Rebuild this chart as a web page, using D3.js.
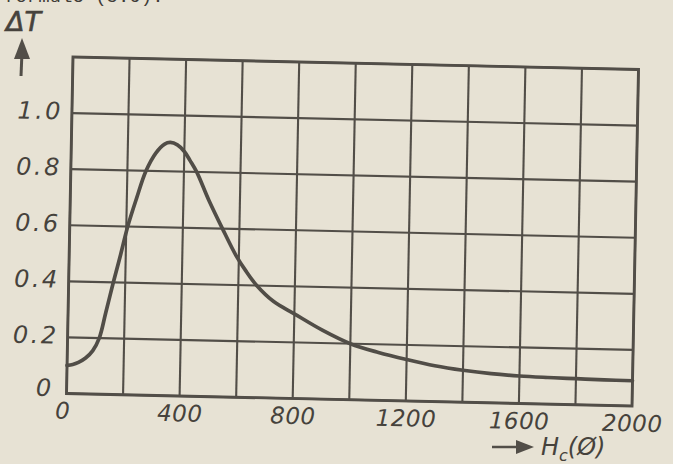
<!DOCTYPE html>
<html>
<head>
<meta charset="utf-8">
<script src="https://cdn.jsdelivr.net/npm/d3@7"></script>
<style>
  html, body { margin: 0; padding: 0; background: #e7e2d4; }
  svg { display: block; }
  .lbl { font-family: "DejaVu Sans", "Liberation Sans", sans-serif; font-style: italic; fill: #46423c; }
</style>
</head>
<body>
<svg id="chart" width="673" height="464"></svg>
<script>
// Field strength H_c (oersted) along the horizontal axis
const fieldH = [0, 20, 40, 65, 90, 112, 133, 158, 182, 205, 234, 266, 300, 330, 350, 375, 400, 421, 445,
                490, 540, 590, 625, 665, 725, 800, 900, 1000, 1100, 1200, 1300, 1400, 1500, 1600,
                1700, 1800, 1900, 2000];
// Temperature change ΔT measured at each field value
const deltaT = [0.100, 0.104, 0.112, 0.128, 0.155, 0.200, 0.290, 0.400, 0.500, 0.600, 0.700, 0.800, 0.865,
                0.897, 0.903, 0.895, 0.872, 0.840, 0.800, 0.700, 0.600, 0.505, 0.452, 0.400, 0.345, 0.302,
                0.246, 0.200, 0.171, 0.148, 0.128, 0.114, 0.104, 0.098, 0.095, 0.093, 0.091, 0.090];

const xTickValues = [0, 400, 800, 1200, 1600, 2000];
const xGridValues = [0, 200, 400, 600, 800, 1000, 1200, 1400, 1600, 1800, 2000];
const yTickValues = [0, 0.2, 0.4, 0.6, 0.8, 1.0];
const yGridValues = [0, 0.2, 0.4, 0.6, 0.8, 1.0, 1.2];
const yTickLabels = ["0", "0.2", "0.4", "0.6", "0.8", "1.0"];

const svg = d3.select("#chart");
const ink = "#524e48";

const W = 565.5, H = 336.5;
// the sheet sits a little askew, so the plot frame is drawn slightly tilted
const frame = svg.append("g")
  .attr("transform", `matrix(1,0.0221,-0.0193,1,73,57)`);

const x = d3.scaleLinear().domain([0, 2000]).range([0, W]);
const y = d3.scaleLinear().domain([0, 1.2]).range([H, 0]);

// grid
frame.append("g").selectAll("line").data(xGridValues).join("line")
  .attr("x1", d => x(d)).attr("x2", d => x(d))
  .attr("y1", 0).attr("y2", H)
  .attr("stroke", ink).attr("stroke-width", 2.1);
frame.append("g").selectAll("line").data(yGridValues).join("line")
  .attr("x1", 0).attr("x2", W)
  .attr("y1", d => y(d)).attr("y2", d => y(d))
  .attr("stroke", ink).attr("stroke-width", 2.1);
frame.append("rect")
  .attr("x", 0).attr("y", 0).attr("width", W).attr("height", H)
  .attr("fill", "none").attr("stroke", ink).attr("stroke-width", 2.9);

// curve
const line = d3.line()
  .x((d, i) => x(fieldH[i]))
  .y(d => y(d))
  .curve(d3.curveCatmullRom.alpha(0.5));
frame.append("path")
  .datum(deltaT)
  .attr("d", line)
  .attr("fill", "none")
  .attr("stroke", "#514d47")
  .attr("stroke-width", 3.7)
  .attr("stroke-linecap", "round");

// axes (labels only)
const xAxis = frame.append("g")
  .attr("transform", `translate(0,${H})`)
  .call(d3.axisBottom(x).tickValues(xTickValues).tickSize(0).tickPadding(9).tickFormat(d3.format("d")));
xAxis.select(".domain").remove();
xAxis.selectAll("text")
  .attr("class", "lbl")
  .attr("font-size", 23)
  .attr("letter-spacing", 0.5)
  .attr("dx", d => d === 0 ? -4 : 0);

const yAxis = frame.append("g")
  .call(d3.axisLeft(y).tickValues(yTickValues).tickSize(0).tickPadding(9)
        .tickFormat((d, i) => yTickLabels[i]));
yAxis.select(".domain").remove();
yAxis.selectAll("text")
  .attr("class", "lbl")
  .attr("font-size", 24)
  .attr("letter-spacing", 2.5)
  .attr("dx", d => d === 0 ? -4 : 0)
  .attr("dy", d => d === 0 ? "0.1em" : "0.25em");

// y axis title with upward arrow
svg.append("text").attr("class", "lbl")
  .attr("x", 6).attr("y", 31).attr("font-size", 27)
  .attr("stroke", "#46423c").attr("stroke-width", 0.6)
  .text("ΔT");
svg.append("line")
  .attr("x1", 21).attr("y1", 76).attr("x2", 22).attr("y2", 52)
  .attr("stroke", ink).attr("stroke-width", 3);
svg.append("path")
  .attr("d", "M22,38 L14,59 L30,59 Z")
  .attr("fill", ink);

// x axis title with rightward arrow
svg.append("line")
  .attr("x1", 492).attr("y1", 447).attr("x2", 520).attr("y2", 447)
  .attr("stroke", ink).attr("stroke-width", 2.5);
svg.append("path")
  .attr("d", "M534,447 L516,440 L516,454 Z")
  .attr("fill", ink);
const xt = svg.append("text").attr("class", "lbl")
  .attr("x", 541).attr("y", 455).attr("font-size", 24);
xt.append("tspan").text("H");
xt.append("tspan").attr("font-size", 16).attr("dy", 6).text("c");
xt.append("tspan").attr("dy", -6).text("(Ø)");

// running text line of the page, cut by the top edge
svg.append("text")
  .attr("x", 4).attr("y", 2)
  .attr("font-family", "Liberation Mono, DejaVu Sans Mono, monospace")
  .attr("font-size", 19)
  .attr("fill", "#3f3c37")
  .text("formule (5.9).");
</script>
</body>
</html>
